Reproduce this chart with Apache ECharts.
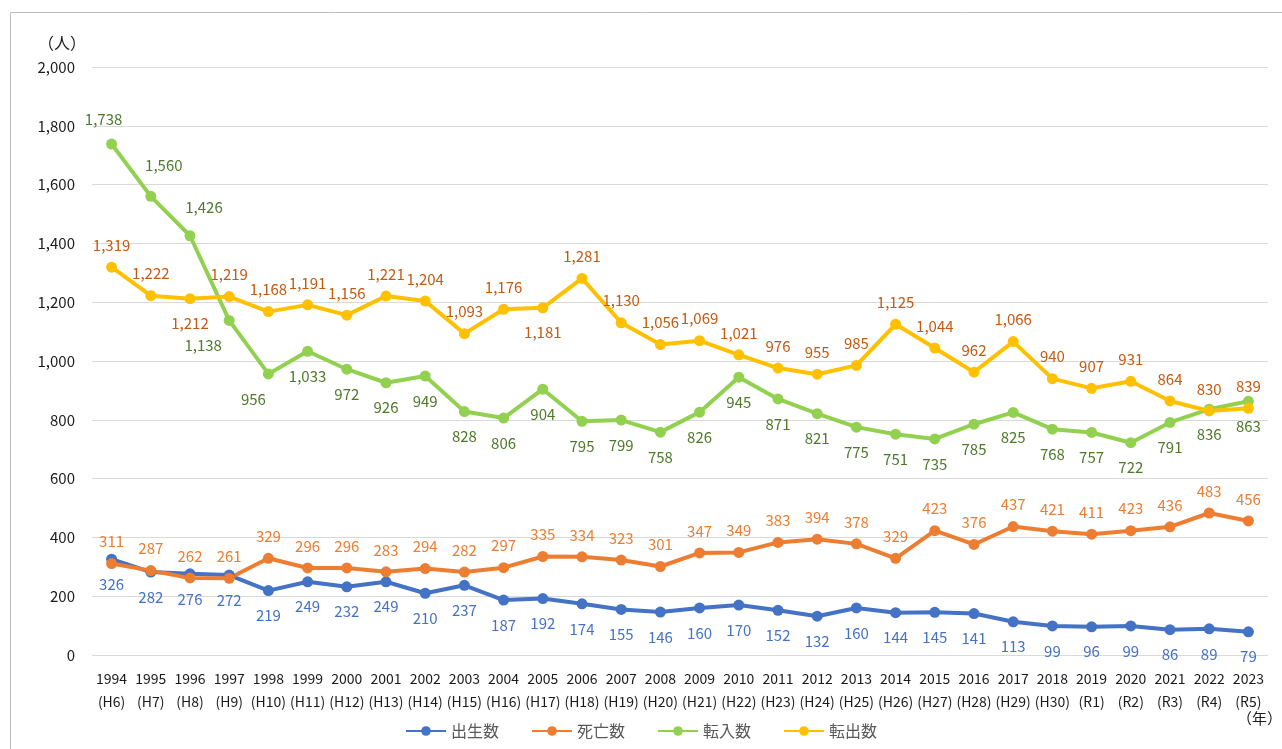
<!DOCTYPE html>
<html>
<head>
<meta charset="utf-8">
<script src="https://cdn.jsdelivr.net/npm/echarts@6/dist/echarts.min.js"></script>
<style>
  html, body { margin: 0; padding: 0; background: #fff; }
  #chart { width: 1282px; height: 749px; }
</style>
</head>
<body>
<div id="chart"></div>
<script>
  // categories (年 / 和暦)
  const years = ['1994', '1995', '1996', '1997', '1998', '1999', '2000', '2001', '2002', '2003',
    '2004', '2005', '2006', '2007', '2008', '2009', '2010', '2011', '2012', '2013',
    '2014', '2015', '2016', '2017', '2018', '2019', '2020', '2021', '2022', '2023']
  const eras = ['H6', 'H7', 'H8', 'H9', 'H10', 'H11', 'H12', 'H13', 'H14', 'H15',
    'H16', 'H17', 'H18', 'H19', 'H20', 'H21', 'H22', 'H23', 'H24', 'H25',
    'H26', 'H27', 'H28', 'H29', 'H30', 'R1', 'R2', 'R3', 'R4', 'R5']

  const births = [326, 282, 276, 272, 219, 249, 232, 249, 210, 237, 187, 192, 174, 155, 146,
    160, 170, 152, 132, 160, 144, 145, 141, 113, 99, 96, 99, 86, 89, 79]
  const deaths = [311, 287, 262, 261, 329, 296, 296, 283, 294, 282, 297, 335, 334, 323, 301,
    347, 349, 383, 394, 378, 329, 423, 376, 437, 421, 411, 423, 436, 483, 456]
  const movedIn = [1738, 1560, 1426, 1138, 956, 1033, 972, 926, 949, 828, 806, 904, 795, 799, 758,
    826, 945, 871, 821, 775, 751, 735, 785, 825, 768, 757, 722, 791, 836, 863]
  const movedOut = [1319, 1222, 1212, 1219, 1168, 1191, 1156, 1221, 1204, 1093, 1176, 1181, 1281, 1130, 1056,
    1069, 1021, 976, 955, 985, 1125, 1044, 962, 1066, 940, 907, 931, 864, 830, 839]

  const yTicks = { min: 0, max: 2000, interval: 200 }

  const font = '"Noto Sans CJK JP", "Noto Sans", sans-serif'
  const fmt = v => Number(v).toLocaleString('en-US')

  // 転入数: first three labels sit above, a few are nudged sideways
  const inLabels = movedIn.map((v, i) => {
    const d = { value: v }
    if (i === 0) d.label = { position: 'top', distance: 12, offset: [-8, 0] }
    if (i === 1) d.label = { position: 'top', distance: 18, offset: [13, 0] }
    if (i === 2) d.label = { position: 'top', distance: 15, offset: [14, 0] }
    if (i === 3) d.label = { offset: [-26, 0] }
    if (i === 4) d.label = { offset: [-15, 0] }
    return d
  })
  // 転出数: labels above, except two below
  const outLabels = movedOut.map((v, i) => {
    const d = { value: v }
    if (i === 2 || i === 11) d.label = { position: 'bottom', distance: 12 }
    return d
  })

  function lineSeries(name, color, labelColor, data, pos) {
    return {
      name: name,
      type: 'line',
      data: data,
      symbol: 'circle',
      symbolSize: 11,
      lineStyle: { color: color, width: 4 },
      itemStyle: { color: color },
      label: {
        show: true,
        position: pos,
        distance: pos === 'top' ? 9 : 12,
        color: labelColor,
        fontSize: 15,
        fontFamily: font,
        formatter: p => fmt(p.value)
      },
      animation: false
    }
  }

  const chart = echarts.init(document.getElementById('chart'))
  chart.setOption({
    textStyle: { fontFamily: font },
    grid: { left: 92, right: 14, top: 67, bottom: 94 },
    legend: {
      bottom: 5,
      left: 'center',
      itemWidth: 40,
      itemHeight: 12,
      itemGap: 32,
      textStyle: { color: '#595959', fontSize: 16, fontFamily: font },
      data: ['出生数', '死亡数', '転入数', '転出数']
    },
    xAxis: {
      type: 'category',
      data: years,
      boundaryGap: true,
      axisLine: { show: false },
      axisTick: { show: false },
      axisLabel: {
        color: '#1a1a1a',
        fontSize: 14,
        lineHeight: 23,
        margin: 12,
        interval: 0,
        formatter: (v, i) => v + '\n(' + eras[i] + ')'
      }
    },
    yAxis: {
      type: 'value',
      min: yTicks.min,
      max: yTicks.max,
      interval: yTicks.interval,
      axisLine: { show: false },
      axisTick: { show: false },
      splitLine: { lineStyle: { color: '#d9d9d9', width: 1 } },
      axisLabel: { color: '#1a1a1a', fontSize: 15, margin: 17, formatter: fmt }
    },
    graphic: [
      {
        type: 'rect',
        shape: { x: 10.5, y: 12.5, width: 1400, height: 900 },
        style: { fill: 'none', stroke: '#bfbfbf', lineWidth: 1 },
        silent: true
      },
      {
        type: 'text', left: 38, top: 35,
        style: { text: '（人）', fill: '#1a1a1a', font: '16px ' + font }
      },
      {
        type: 'text', left: 1237, top: 711,
        style: { text: '（年）', fill: '#1a1a1a', font: '15px ' + font }
      }
    ],
    series: [
      lineSeries('出生数', '#4472C4', '#4472C4', births, 'bottom'),
      lineSeries('死亡数', '#ED7D31', '#ED7D31', deaths, 'top'),
      lineSeries('転入数', '#92D050', '#4E7A2A', inLabels, 'bottom'),
      lineSeries('転出数', '#FFC000', '#C55A11', outLabels, 'top')
    ]
  })
</script>
</body>
</html>
